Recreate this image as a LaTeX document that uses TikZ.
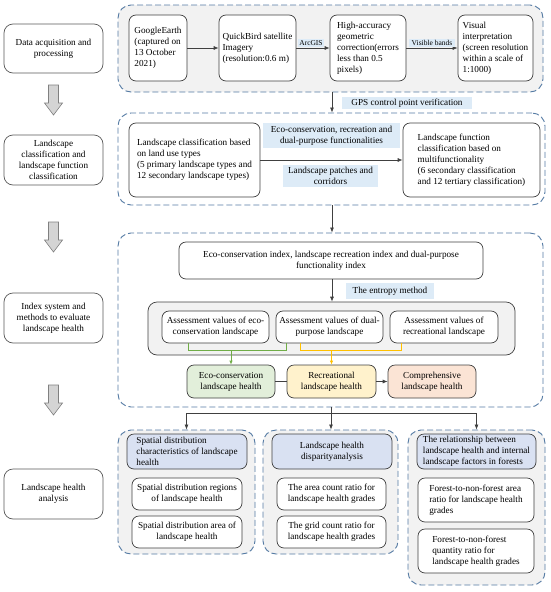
\documentclass[tikz,border=0pt]{standalone}
\usepackage{fontspec}
\setmainfont{Liberation Serif}
\usetikzlibrary{arrows.meta}
\definecolor{dashc}{RGB}{84,122,163}
\definecolor{panelfill}{RGB}{242,242,242}
\definecolor{boxline}{RGB}{64,64,64}
\definecolor{leftline}{RGB}{89,89,89}
\definecolor{lblfill}{RGB}{221,235,247}
\definecolor{hdrfill}{RGB}{217,225,242}
\definecolor{grnfill}{RGB}{226,239,218}
\definecolor{ylwfill}{RGB}{255,242,204}
\definecolor{orgfill}{RGB}{251,228,213}
\definecolor{grnline}{RGB}{112,173,71}
\definecolor{ylwline}{RGB}{255,192,0}
\definecolor{blkfill}{RGB}{212,212,212}
\definecolor{blkline}{RGB}{128,128,128}
\newcommand\mybox[7]{%
  \pgfmathsetmacro\bw{#5-#3}\pgfmathsetmacro\bh{#6-#4}%
  \node[#1, minimum width=\bw pt, minimum height=\bh pt] (#2) at ({(#3+#5)/2},{(#4+#6)/2}) {#7};}
\newcommand\blockarrow[3]{% #1 name, #2 top y, #3 bottom y
  \pgfmathsetmacro\hy{#3-12}%
  \draw[blk] (48.5,#2) -- (58.5,#2) -- (58.5,\hy) -- (62.5,\hy) -- (53.5,#3) -- (44.5,\hy) -- (48.5,\hy) -- cycle;
  \coordinate (#1) at (53.5,{(#2+#3)/2});}
\begin{document}
\begin{tikzpicture}[x=1pt,y=-1pt,
  txt/.style={font=\fontsize{9.2}{10.9}\selectfont},
  small/.style={font=\fontsize{7.5}{9}\selectfont},
  basebox/.style={txt, rectangle, rounded corners=7pt, draw=boxline, line width=0.7pt, fill=white, inner xsep=2pt, inner ysep=0pt},
  cbox/.style={basebox, align=center},
  lbox/.style={basebox, align=left},
  leftcol/.style={cbox, draw=leftline, rounded corners=9pt},
  panel/.style={rectangle, rounded corners=13pt, draw=dashc, line width=0.9pt, dash pattern=on 6pt off 3pt, inner sep=0pt},
  gpanel/.style={panel, fill=panelfill},
  wpanel/.style={panel, fill=none},
  lbl/.style={txt, rectangle, fill=lblfill, inner sep=0pt, align=center},
  hdr/.style={fill=hdrfill},
  arr/.style={-{Latex[length=5pt,width=4pt]}, line width=0.7pt, draw=boxline},
  ln/.style={line width=0.7pt, draw=boxline},
  blk/.style={fill=blkfill, draw=blkline, line width=0.6pt},
]
\useasboundingbox (0,0) rectangle (550,592);

% ---------- left column ----------
\mybox{leftcol}{L1}{4}{24}{103}{73}{Data acquisition and\\processing}
\mybox{leftcol}{L2}{4}{135}{103}{185}{Landscape\\classification and\\landscape function\\classification}
\mybox{leftcol}{L3}{4}{293}{103}{343}{Index system and\\methods to evaluate\\landscape health}
\mybox{leftcol}{L4}{4}{469}{103}{519}{Landscape health\\analysis}
\blockarrow{A1}{85}{115}
\blockarrow{A2}{222}{252}
\blockarrow{A3}{385}{415}

% ---------- panel 1 ----------
\mybox{gpanel}{P1}{118}{5}{543}{92}{}
\mybox{lbox}{G1}{129}{15}{187}{81}{GoogleEarth\\(captured on\\13 October\\2021)}
\mybox{lbox}{G2}{219}{15}{296}{81}{QuickBird satellite\\Imagery\\(resolution:0.6 m)}
\mybox{lbox}{G3}{330}{15}{406}{81}{High-accuracy\\geometric\\correction(errors\\less than 0.5\\pixels)}
\mybox{lbox}{G4}{458}{15}{533}{81}{Visual\\interpretation\\(screen resolution\\within a scale of\\1:1000)}
\coordinate (g1e) at (187,48);
\draw[arr] (g1e) -- (g1e -| G2.west);
\draw[arr] (g1e -| G2.east) -- (g1e -| G3.west);
\draw[arr] (g1e -| G3.east) -- (g1e -| G4.west);
\node[lbl, small, minimum width=26pt, minimum height=8pt] (LA) at (311,43) {ArcGIS};
\node[lbl, small, minimum width=46pt, minimum height=8pt] (LB) at (432,43) {Visible bands};

% ---------- GPS ----------
\mybox{wpanel}{P2}{118}{113}{545}{205}{}
\coordinate (gx) at (332,0);
\draw[arr] (P1.south -| gx) -- (P2.north -| gx);
\node[lbl, minimum width=130pt, minimum height=12pt] (LG) at (407,103) {GPS control point verification};

% ---------- panel 2 ----------
\mybox{lbox}{C1}{129}{123}{260}{197}{Landscape classification based\\on land use types\\(5 primary landscape types and\\12 secondary landscape types)}
\mybox{lbox}{C2}{403}{123}{540}{197}{Landscape function\\classification based on\\multifunctionality\\(6 secondary classification\\and 12 tertiary classification)}
\draw[arr] (C1.east) -- (C2.west);
\node[lbl, minimum width=137pt, minimum height=25pt] (LC1) at (331.5,135.5) {Eco-conservation, recreation and\\dual-purpose functionalities};
\node[lbl, minimum width=95pt, minimum height=22pt] (LC2) at (330.5,176) {Landscape patches and\\corridors};

% ---------- panel 3 ----------
\mybox{wpanel}{P3}{118}{233}{543}{407}{}
\coordinate (p2x) at (332,0);
\draw[arr] (P2.south -| p2x) -- (P3.north -| p2x);
\mybox{cbox}{I1}{179}{242}{483}{279}{Eco-conservation index, landscape recreation index and dual-purpose\\functionality index}
\mybox{basebox, fill=panelfill, rounded corners=9pt}{GB}{148}{302}{515}{355}{}
\draw[arr] (I1.south -| p2x) -- (GB.north -| p2x);
\node[lbl, minimum width=88pt, minimum height=16pt] (LE) at (390,291) {The entropy method};
\mybox{cbox}{S1}{162}{311}{269}{343}{Assessment values of eco-\\conservation landscape}
\mybox{cbox}{S2}{276}{311}{383}{343}{Assessment values of dual-\\purpose landscape}
\mybox{cbox}{S3}{390}{311}{498}{343}{Assessment values of\\recreational landscape}
\mybox{cbox, fill=grnfill}{H1}{187}{365}{275}{398}{Eco-conservation\\landscape health}
\mybox{cbox, fill=ylwfill}{H2}{287}{365}{376}{398}{Recreational\\landscape health}
\mybox{cbox, fill=orgfill}{H3}{388}{365}{476}{398}{Comprehensive\\landscape health}
% brackets
\coordinate (gb1) at (188,350);
\coordinate (gb2) at (286,350);
\coordinate (yb1) at (300,350);
\coordinate (yb2) at (401,350);
\draw[grnline, line width=0.7pt] (S1.south -| gb1) -- (gb1) -- (gb2) -- (S2.south -| gb2);
\draw[grnline, line width=0.7pt, -{Latex[length=4pt,width=3.5pt]}] (H1.north |- gb1) -- (H1.north);
\draw[ylwline, line width=0.7pt] (S2.south -| yb1) -- (yb1) -- (yb2) -- (S3.south -| yb2);
\draw[ylwline, line width=0.7pt, -{Latex[length=4pt,width=3.5pt]}] (H2.north |- yb1) -- (H2.north);
\draw[ln] (H1.east) -- (H2.west);
\draw[arr] (H2.east) -- (H3.west);

% ---------- bottom panels ----------
\mybox{gpanel}{BA}{118}{430}{255}{554}{}
\mybox{gpanel}{BB}{263}{430}{398}{554}{}
\mybox{gpanel}{BC}{408}{430}{545}{585}{}
\coordinate (sp) at (331,413);
\draw[ln] (P3.south -| sp) -- (sp);
\draw[ln] (sp -| BA.north) -- (sp -| BC.north);
\draw[arr] (sp -| BA.north) -- (BA.north);
\draw[arr] (sp) -- (sp |- BB.north);
\draw[arr] (sp -| BC.north) -- (BC.north);

\mybox{lbox, hdr}{A1h}{127}{434}{247}{469}{Spatial distribution\\characteristics of landscape\\health}
\mybox{cbox}{A2}{132}{478}{242}{510}{Spatial distribution regions\\of landscape health}
\mybox{cbox}{A3}{132}{516}{242}{548}{Spatial distribution area of\\landscape health}

\mybox{cbox, hdr}{B1h}{272}{434}{392}{469}{Landscape health\\disparityanalysis}
\mybox{cbox}{B2}{277}{478}{386}{510}{The area count ratio for\\landscape health grades}
\mybox{cbox}{B3}{277}{516}{386}{548}{The grid count ratio for\\landscape health grades}

\mybox{lbox, hdr}{C1h}{417}{434}{536}{469}{The relationship between\\landscape health and internal\\landscape factors in forests}
\mybox{lbox}{Cc2}{418}{478}{534}{522}{Forest-to-non-forest area\\ratio for landscape health\\grades}
\mybox{lbox}{Cc3}{418}{529}{534}{573}{Forest-to-non-forest\\quantity ratio for\\landscape health grades}
\end{tikzpicture}
\end{document}
